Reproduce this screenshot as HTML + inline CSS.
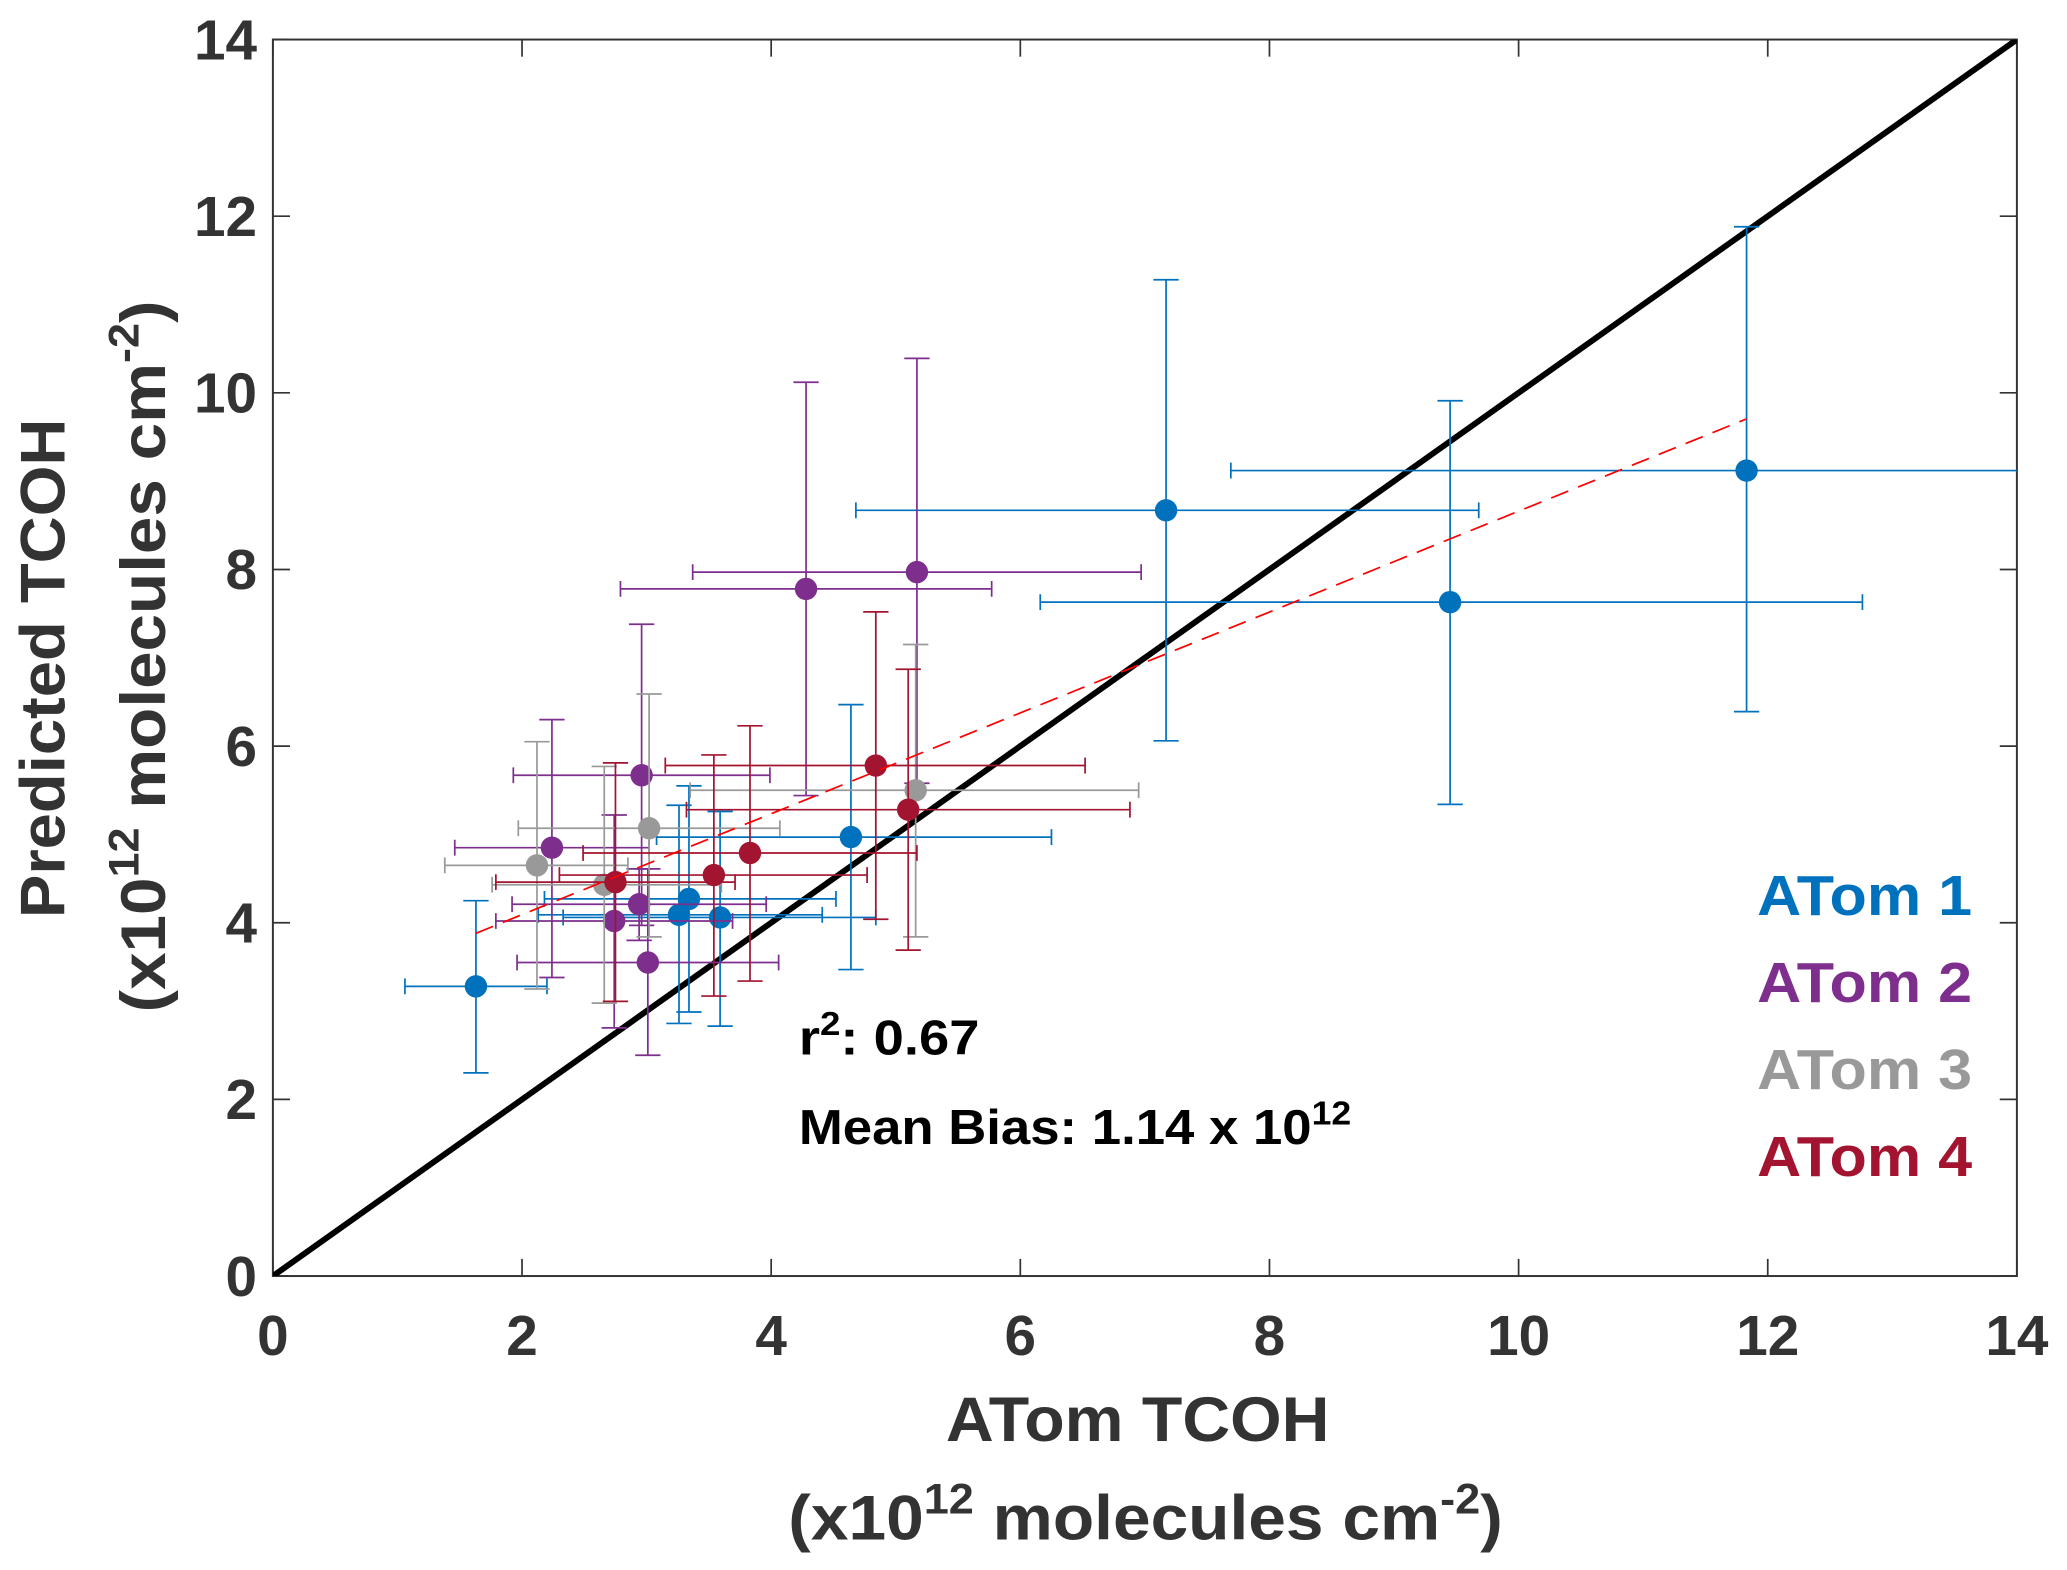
<!DOCTYPE html>
<html><head><meta charset="utf-8"><style>
html,body{margin:0;padding:0;background:#fff;}
svg{display:block;}
text{font-family:"Liberation Sans",Arial,sans-serif;font-weight:bold;}
</style></head><body>
<svg id="chart" width="2067" height="1570" viewBox="0 0 1568 1191" xmlns="http://www.w3.org/2000/svg">
<g id="axes"></g>
<g id="marks"></g>
<g id="labels">
<text x="606" y="800" font-size="37" fill="#000" textLength="137" lengthAdjust="spacingAndGlyphs">r<tspan dy="-15" font-size="25">2</tspan><tspan dy="15">: 0.67</tspan></text>
<text x="606" y="868" font-size="37" fill="#000" textLength="419" lengthAdjust="spacingAndGlyphs">Mean Bias: 1.14 x 10<tspan dy="-15" font-size="25">12</tspan></text>
<text x="1496" y="694" font-size="43" fill="#0072BD" text-anchor="end" textLength="163" lengthAdjust="spacingAndGlyphs">ATom 1</text>
<text x="1496" y="760" font-size="43" fill="#7E2F8E" text-anchor="end" textLength="163" lengthAdjust="spacingAndGlyphs">ATom 2</text>
<text x="1496" y="826" font-size="43" fill="#999999" text-anchor="end" textLength="163" lengthAdjust="spacingAndGlyphs">ATom 3</text>
<text x="1496" y="892" font-size="43" fill="#A2142F" text-anchor="end" textLength="163" lengthAdjust="spacingAndGlyphs">ATom 4</text>
<text x="863" y="1093" font-size="48" fill="#333" text-anchor="middle" textLength="291" lengthAdjust="spacingAndGlyphs">ATom TCOH</text>
<text x="869" y="1168" font-size="48" fill="#333" text-anchor="middle" textLength="542" lengthAdjust="spacingAndGlyphs">(x10<tspan dy="-20" font-size="32">12</tspan><tspan dy="20"> molecules cm</tspan><tspan dy="-20" font-size="32">-2</tspan><tspan dy="20">)</tspan></text>
<text transform="translate(49,507) rotate(-90)" font-size="48" fill="#333" text-anchor="middle" textLength="379" lengthAdjust="spacingAndGlyphs">Predicted TCOH</text>
<text transform="translate(125,498) rotate(-90)" font-size="48" fill="#333" text-anchor="middle" textLength="540" lengthAdjust="spacingAndGlyphs">(x10<tspan dy="-20" font-size="32">12</tspan><tspan dy="20"> molecules cm</tspan><tspan dy="-20" font-size="32">-2</tspan><tspan dy="20">)</tspan></text>
</g>
</svg>
<script>
// ---- data ----
const xTicks = [0,2,4,6,8,10,12,14];
const yTicks = [0,2,4,6,8,10,12,14];
const atom1X = [1.63,7.17,9.45,11.83,4.64,3.34,3.26,3.59];
const atom1Y = [3.28,8.67,7.63,9.12,4.97,4.27,4.09,4.06];
const atom1XLo = [1.06,4.68,6.16,7.69,3.08,2.18,2.13,2.33];
const atom1XHi = [2.20,9.68,12.76,15.97,6.25,4.52,4.41,4.84];
const atom1YLo = [2.30,6.06,5.34,6.39,3.47,2.99,2.86,2.83];
const atom1YHi = [4.25,11.28,9.91,11.88,6.47,5.55,5.33,5.26];
const atom2X = [4.28,5.17,2.96,2.24,2.94,2.74,3.01];
const atom2Y = [7.78,7.97,5.67,4.85,4.21,4.02,3.55];
const atom2XLo = [2.79,3.37,1.93,1.46,1.92,1.79,1.96];
const atom2XHi = [5.77,6.97,3.99,3.02,3.96,3.69,4.06];
const atom2YLo = [5.44,5.58,3.97,3.38,3.80,2.81,2.50];
const atom2YHi = [10.12,10.39,7.38,6.30,4.61,5.22,4.61];
const atom3X = [2.12,3.02,2.66,5.16];
const atom3Y = [4.65,5.07,4.43,5.50];
const atom3XLo = [1.38,1.97,1.76,3.35];
const atom3XHi = [2.85,4.07,3.60,6.95];
const atom3YLo = [3.25,3.84,3.09,3.84];
const atom3YHi = [6.05,6.59,5.77,7.15];
const atom4X = [2.75,3.54,3.83,4.84,5.10];
const atom4Y = [4.46,4.54,4.79,5.78,5.28];
const atom4XLo = [1.79,2.30,2.49,3.15,3.32];
const atom4XHi = [3.71,4.77,5.17,6.52,6.88];
const atom4YLo = [3.11,3.17,3.34,4.04,3.69];
const atom4YHi = [5.81,5.90,6.23,7.52,6.87];
const fitX = [1.63,11.83];
const fitSlope = 0.571;
const fitIntercept = 2.95;
const oneToOne = [0,14];

// ---- axes functions ----
const X0=207, X1=1530, Y0=968, Y1=30, XMAX=14, YMAX=14;
function sx(v){return X0+(v/XMAX)*(X1-X0);}
function sy(v){return Y0-(v/YMAX)*(Y0-Y1);}
const NS="http://www.w3.org/2000/svg";
function mk(tag,attrs,parent){const e=document.createElementNS(NS,tag);for(const k in attrs)e.setAttribute(k,attrs[k]);parent.appendChild(e);return e;}
const axes=document.getElementById('axes');
const marks=document.getElementById('marks');
const clipDef=mk('defs',{},marks);
const cp=mk('clipPath',{id:'plotclip'},clipDef);
mk('rect',{x:X0,y:Y1,width:X1-X0,height:Y0-Y1},cp);

// ticks
xTicks.forEach(t=>{
  const x=sx(t);
  const a=mk('line',{x1:x,y1:Y0,x2:x,y2:Y0-13,stroke:'#333','stroke-width':1.3},axes);
  
  
  const b=mk('line',{x1:x,y1:Y1,x2:x,y2:Y1+13,stroke:'#333','stroke-width':1.3},axes);
  
  
  const l=mk('text',{x:x,y:Y0+60,'font-size':43,fill:'#333','text-anchor':'middle'},axes);
  l.textContent=t;
  
  
});
yTicks.forEach(t=>{
  const y=sy(t);
  const a=mk('line',{x1:X0,y1:y,x2:X0+13,y2:y,stroke:'#333','stroke-width':1.3},axes);
  
  
  const b=mk('line',{x1:X1,y1:y,x2:X1-13,y2:y,stroke:'#333','stroke-width':1.3},axes);
  
  
  const l=mk('text',{x:X0-12,y:y+15,'font-size':43,fill:'#333','text-anchor':'end'},axes);
  l.textContent=t;
  
  
});
const frame=mk('rect',{x:X0,y:Y1,width:X1-X0,height:Y0-Y1,fill:'none',stroke:'#333','stroke-width':1.5},axes);



const g=mk('g',{'clip-path':'url(#plotclip)'},marks);
function series(name,color,X,Y,XL,XH,YL,YH){
  const sg=mk('g',{},g);
  
  
  const cap=6;
  for(let i=0;i<X.length;i++){
    const cx=sx(X[i]),cy=sy(Y[i]);
    const eb=mk('path',{d:
      `M${sx(XL[i])},${cy}H${sx(XH[i])}M${sx(XL[i])},${cy-cap}V${cy+cap}M${sx(XH[i])},${cy-cap}V${cy+cap}`+
      `M${cx},${sy(YL[i])}V${sy(YH[i])}M${cx-cap*1.6},${sy(YL[i])}H${cx+cap*1.6}M${cx-cap*1.6},${sy(YH[i])}H${cx+cap*1.6}`,
      stroke:color,'stroke-width':1.3,fill:'none'},sg);
    
    
  }
  for(let i=0;i<X.length;i++){
    const c=mk('ellipse',{cx:sx(X[i]),cy:sy(Y[i]),rx:8.5,ry:8.5,fill:color},sg);
    
    
  }
}
// one-to-one line
const ol=mk('line',{x1:sx(oneToOne[0]),y1:sy(oneToOne[0]),x2:sx(oneToOne[1]),y2:sy(oneToOne[1]),stroke:'#000','stroke-width':4.5},g);


series('atom1-series','#0072BD',atom1X,atom1Y,atom1XLo,atom1XHi,atom1YLo,atom1YHi);
series('atom2-series','#7E2F8E',atom2X,atom2Y,atom2XLo,atom2XHi,atom2YLo,atom2YHi);
series('atom3-series','#999999',atom3X,atom3Y,atom3XLo,atom3XHi,atom3YLo,atom3YHi);
series('atom4-series','#A2142F',atom4X,atom4Y,atom4XLo,atom4XHi,atom4YLo,atom4YHi);
const fl=mk('line',{x1:sx(fitX[0]),y1:sy(fitIntercept+fitSlope*fitX[0]),x2:sx(fitX[1]),y2:sy(fitIntercept+fitSlope*fitX[1]),stroke:'#FF0000','stroke-width':1.3,'stroke-dasharray':'14 8'},g);


</script>
</body></html>
